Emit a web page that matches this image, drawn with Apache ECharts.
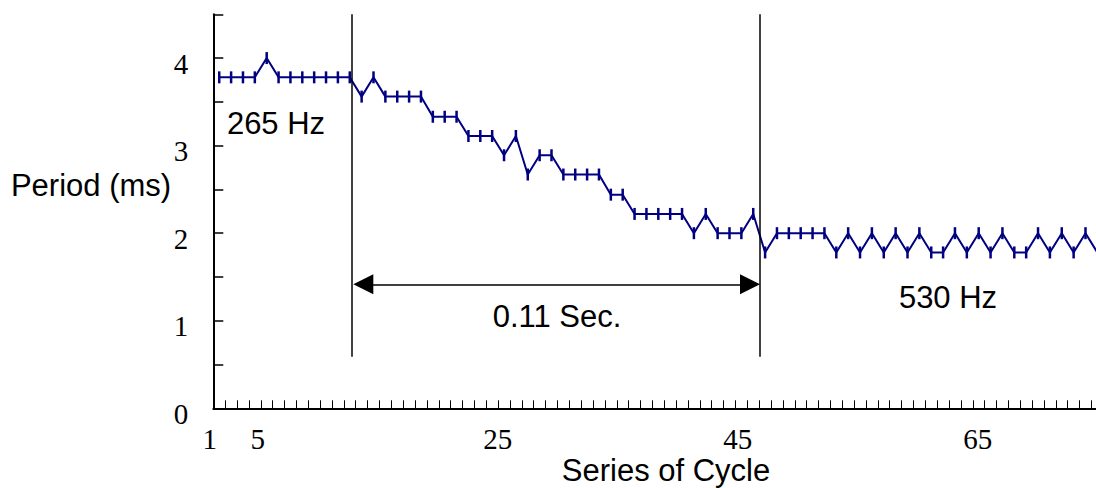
<!DOCTYPE html>
<html><head><meta charset="utf-8">
<script src="https://cdn.jsdelivr.net/npm/echarts@6/dist/echarts.min.js"></script>
<style>html,body{margin:0;padding:0;background:#fff}#c{width:1096px;height:488px}</style>
</head><body><div id="c"></div>
<script>
// ---- data ----
const cycles = ['1','2','3','4','5','6','7','8','9','10','11','12','13','14','15','16','17','18','19','20',
  '21','22','23','24','25','26','27','28','29','30','31','32','33','34','35','36','37','38','39','40',
  '41','42','43','44','45','46','47','48','49','50','51','52','53','54','55','56','57','58','59','60',
  '61','62','63','64','65','66','67','68','69','70','71','72','73','74','75'];
const periodMs = [
  3.78, 3.78, 3.78, 3.78, 4.00, 3.78, 3.78, 3.78, 3.78, 3.78,
  3.78, 3.78, 3.56, 3.78, 3.56, 3.56, 3.56, 3.56, 3.33, 3.33,
  3.33, 3.11, 3.11, 3.11, 2.89, 3.11, 2.67, 2.89, 2.89, 2.67,
  2.67, 2.67, 2.67, 2.44, 2.44, 2.22, 2.22, 2.22, 2.22, 2.22,
  2.00, 2.22, 2.00, 2.00, 2.00, 2.22, 1.78, 2.00, 2.00, 2.00,
  2.00, 2.00, 1.78, 2.00, 1.78, 2.00, 1.78, 2.00, 1.78, 2.00,
  1.78, 1.78, 2.00, 1.78, 2.00, 1.78, 2.00, 1.78, 1.78, 2.00,
  1.78, 2.00, 1.78, 2.00, 1.78
];
const xTickLabels = ['1', '5', '25', '45', '65'];
const yTickLabels = ['0', '1', '2', '3', '4'];
// annotation positions (x in cycle-slot units, y in ms)
const markerLinesX = [11.65, 46.05];
const markerLineSpan = [0.59, 4.5];
const arrowSpan = [12.64, 45.23];
const arrowY = 1.416;

// ---- chart ----
const chart = echarts.init(document.getElementById('c'), null, {renderer: 'svg'});
const serif = '"Liberation Serif", "Times New Roman", serif';
const sans = '"Liberation Sans", Arial, sans-serif';
const txt = (t, x, y) => ({type: 'text', x: x, y: y, silent: true,
  style: {text: t, fontSize: 31, fontFamily: sans, fill: '#000', align: 'center', verticalAlign: 'middle'}});
const nCat = cycles.length;

chart.setOption({
  animation: false,
  backgroundColor: '#fff',
  grid: [
    {left: 213.3, top: 14.3, width: 890, height: 394, containLabel: false, outerBoundsMode: 'none'},
    {left: 197.7, top: 14.3, width: 12 * (nCat + 1), height: 394, containLabel: false, outerBoundsMode: 'none'}
  ],
  xAxis: [{
    gridIndex: 0, type: 'category', data: cycles, boundaryGap: true,
    axisLine: {lineStyle: {color: '#000', width: 2}},
    axisTick: {show: false},
    axisLabel: {show: false}, splitLine: {show: false}
  }, {
    gridIndex: 0, type: 'value', min: 0, max: nCat, interval: 1, position: 'bottom',
    axisLine: {show: false}, splitLine: {show: false}, axisLabel: {show: false},
    axisTick: {show: true, inside: true, length: 8, lineStyle: {color: '#000', width: 1}}
  }, {
    gridIndex: 1, type: 'value', min: 0, max: nCat + 1, interval: 1, position: 'bottom',
    axisLine: {show: false}, axisTick: {show: false}, splitLine: {show: false},
    axisLabel: {
      margin: 31, verticalAlign: 'middle', lineHeight: 24, showMinLabel: true, showMaxLabel: false,
      fontFamily: serif, fontSize: 29, color: '#000',
      formatter: v => { const s = String(Math.round(v)); return xTickLabels.includes(s) ? s : ''; }
    }
  }],
  yAxis: [{
    gridIndex: 0, type: 'value', min: 0, max: 4.5, interval: 0.5,
    axisLine: {show: true, lineStyle: {color: '#000', width: 2}},
    axisTick: {show: true, inside: true, length: 10, lineStyle: {color: '#000', width: 1.5}},
    splitLine: {show: false},
    axisLabel: {
      margin: 25, verticalAlign: 'top', lineHeight: 11,
      fontFamily: serif, fontSize: 29, color: '#000',
      formatter: v => { const s = String(v); return yTickLabels.includes(s) ? s : ''; }
    }
  }, {
    gridIndex: 1, type: 'value', min: 0, max: 4.5, show: false
  }],
  series: [{
    type: 'line', xAxisIndex: 0, yAxisIndex: 0, data: periodMs,
    symbol: 'rect', symbolSize: [2.5, 12], showAllSymbol: true,
    lineStyle: {color: '#000080', width: 2},
    itemStyle: {color: '#000080'},
    z: 3
  }, {
    type: 'line', xAxisIndex: 1, yAxisIndex: 0, data: [], silent: true,
    markLine: {
      silent: true, animation: false, symbol: 'none', label: {show: false},
      lineStyle: {color: '#000', width: 1.5, type: 'solid'},
      data: [
        [{coord: [markerLinesX[0], markerLineSpan[0]]}, {coord: [markerLinesX[0], markerLineSpan[1]]}],
        [{coord: [markerLinesX[1], markerLineSpan[0]]}, {coord: [markerLinesX[1], markerLineSpan[1]]}],
        [{coord: [arrowSpan[0], arrowY], symbol: 'triangle', symbolSize: [20, 20]},
         {coord: [arrowSpan[1], arrowY], symbol: 'triangle', symbolSize: [20, 20]}]
      ]
    }
  }],
  graphic: [
    txt('265 Hz', 276, 123.5),
    txt('0.11 Sec.', 557, 316),
    txt('530 Hz', 948, 297),
    txt('Period (ms)', 91, 185),
    txt('Series of Cycle', 666, 470)
  ]
});
</script></body></html>
